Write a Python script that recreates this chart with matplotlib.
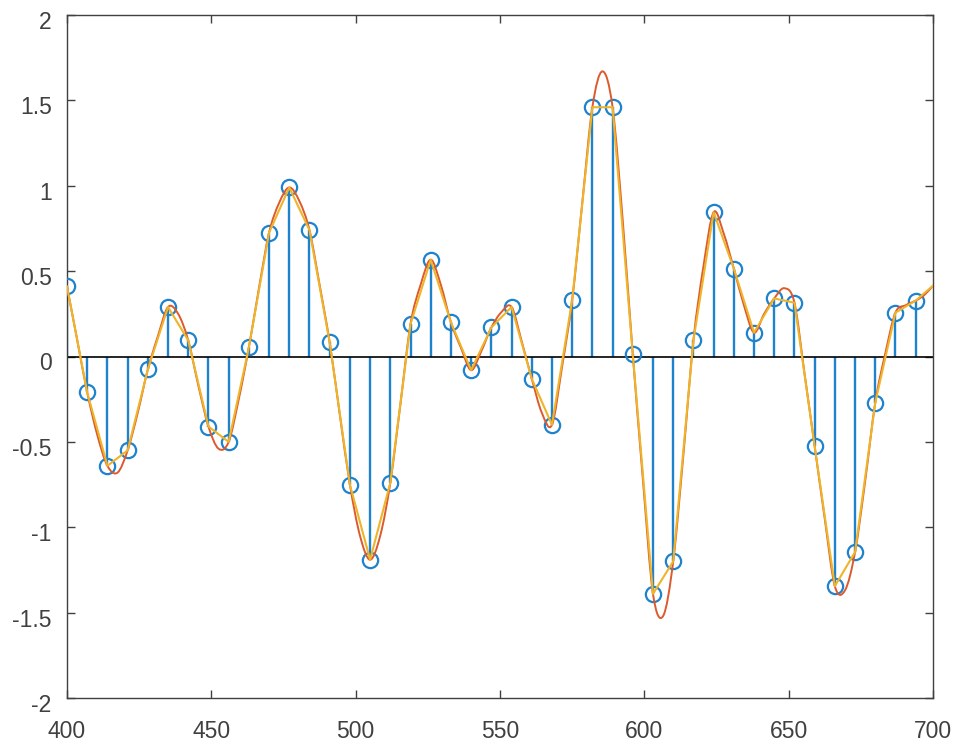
import numpy as np
import matplotlib
matplotlib.use("Agg")
import matplotlib.pyplot as plt
import matplotlib.transforms as mtransforms
from matplotlib.path import Path
from matplotlib.patches import PathPatch

# Sample positions and values (stems)
sample_x = [400, 407, 414, 421, 428, 435, 442, 449, 456, 463, 470, 477, 484, 491,
            498, 505, 512, 519, 526, 533, 540, 547, 554, 561, 568, 575, 582, 589,
            596, 603, 610, 617, 624, 631, 638, 645, 652, 659, 666, 673, 680, 687, 694]
sample_y = [0.41, -0.21, -0.64, -0.55, -0.076, 0.29, 0.094, -0.41, -0.50, 0.053,
            0.725, 0.99, 0.74, 0.082, -0.75, -1.19, -0.74, 0.19, 0.567, 0.20,
            -0.08, 0.17, 0.29, -0.13, -0.40, 0.33, 1.46, 1.46, 0.012, -1.39,
            -1.20, 0.094, 0.845, 0.515, 0.14, 0.34, 0.315, -0.525, -1.345, -1.145,
            -0.27, 0.257, 0.327]

# Red (smooth reconstructed) curve values read at midpoints between samples
red_mid_x = [403.5, 410.5, 417.5, 424.5, 431.5, 438.5, 445.5, 452.5, 459.5, 466.5,
             473.5, 480.5, 487.5, 494.5, 501.5, 508.5, 515.5, 522.5, 529.5, 536.5,
             543.5, 550.5, 557.5, 564.5, 571.5, 578.5, 585.5, 592.5, 599.5, 606.5,
             613.5, 620.5, 627.5, 634.5, 641.5, 648.5, 655.5, 662.5, 669.5, 676.5,
             683.5, 690.5, 697.0]
red_mid_y = [0.10, -0.46, -0.68, -0.33, 0.12, 0.25, -0.17, -0.54, -0.25, 0.40,
             0.90, 0.91, 0.42, -0.34, -1.05, -1.05, -0.28, 0.42, 0.42, 0.05,
             0.03, 0.26, 0.09, -0.33, -0.06, 0.90, 1.67, 0.80, -0.72, -1.52,
             -0.58, 0.53, 0.72, 0.30, 0.25, 0.40, -0.10, -0.95, -1.37, -0.73,
             0.02, 0.30, 0.36]
end_x = 700
end_y = 0.415

x_ticks = [400, 450, 500, 550, 600, 650, 700]
y_ticks = [-2, -1.5, -1, -0.5, 0, 0.5, 1, 1.5, 2]
y_ticklabels = ['-2', '-1.5', '-1', '-0.5', '0', '0.5', '1', '1.5', '2']

stem_color = '#1f82cc'
red_color = '#dd5a2c'
yel_color = '#eeb42a'

plt.rcParams['font.family'] = ['Liberation Sans', 'DejaVu Sans']

fig = plt.figure(figsize=(9.59, 7.45), dpi=100)
ax = fig.add_axes([67/959, 47/745, 866/959, 683/745])

# stems
ax.vlines(sample_x, 0, sample_y, color=stem_color, lw=1.7, zorder=2)
ax.axhline(0, color='black', lw=1.2, zorder=2.5)
ax.plot(sample_x, sample_y, 'o', ms=11, mfc='none', mec=stem_color, mew=1.6, zorder=3)

# red curve: merge samples and midpoints, render as smooth Catmull-Rom bezier
rx = np.array(sample_x + red_mid_x + [end_x], dtype=float)
ry = np.array(sample_y + red_mid_y + [end_y], dtype=float)
order = np.argsort(rx)
rx, ry = rx[order], ry[order]

def smooth_path(x, y):
    pts = np.column_stack([x, y])
    verts = [pts[0]]
    codes = [Path.MOVETO]
    n = len(pts)
    for i in range(n - 1):
        p0 = pts[i - 1] if i > 0 else pts[i]
        p1 = pts[i]
        p2 = pts[i + 1]
        p3 = pts[i + 2] if i + 2 < n else pts[i + 1]
        c1 = p1 + (p2 - p0) / 6.0
        c2 = p2 - (p3 - p1) / 6.0
        verts += [c1, c2, p2]
        codes += [Path.CURVE4] * 3
    return Path(verts, codes)

ax.add_patch(PathPatch(smooth_path(rx, ry), fc='none', ec=red_color, lw=1.4, zorder=4))

# yellow curve: straight segments through samples to the axis end
ax.plot(sample_x + [end_x], sample_y + [end_y], color=yel_color, lw=1.5, zorder=5)

ax.set_xlim(400, 700)
ax.set_ylim(-2, 2)
ax.set_xticks(x_ticks)
ax.set_yticks(y_ticks)
ax.set_yticklabels(y_ticklabels)
tick_col = (0.25, 0.25, 0.25)
ax.tick_params(direction='in', length=6, width=1, colors=tick_col,
               labelsize=16.5, top=True, right=True, labeltop=False, labelright=False)
ax.tick_params(axis='x', pad=16)
ax.tick_params(axis='y', pad=11)
offset = mtransforms.ScaledTranslation(0, -5/100, fig.dpi_scale_trans)
for lbl in ax.get_yticklabels():
    lbl.set_transform(lbl.get_transform() + offset)
for s in ax.spines.values():
    s.set_color(tick_col)
    s.set_linewidth(1.0)

fig.savefig('out.png', dpi=100)
